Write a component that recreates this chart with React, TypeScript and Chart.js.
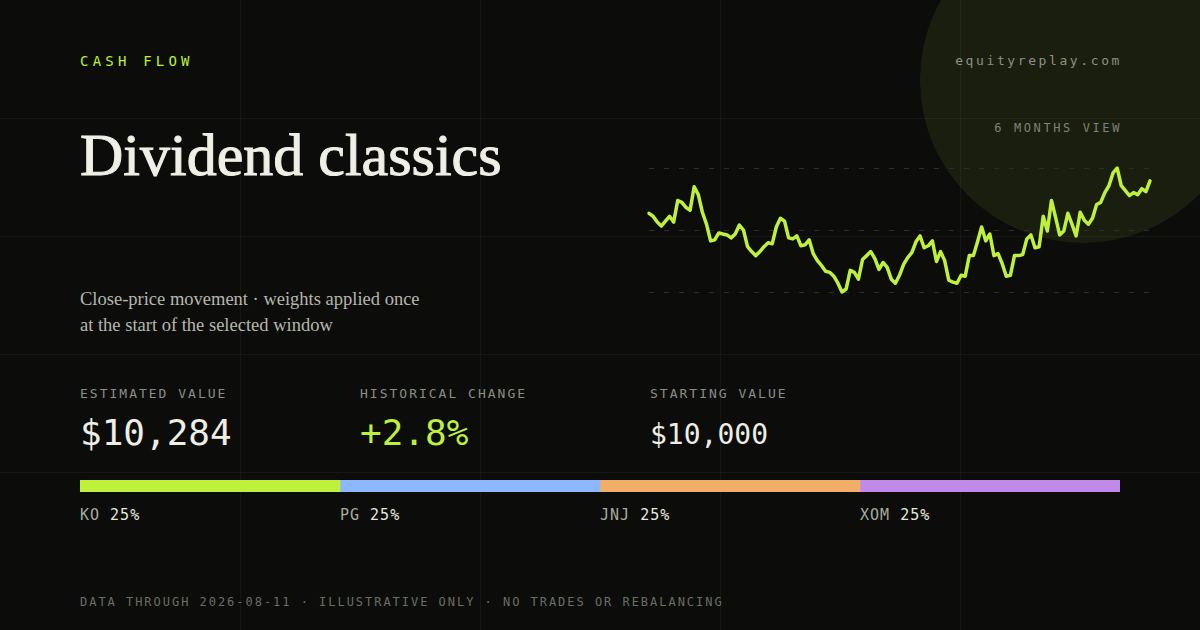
import { useEffect, useRef } from "react";
import { Chart, registerables } from "chart.js";

Chart.register(...registerables);

// Valor da carteira (USD), 6 meses de fechamentos
const portfolioValues = [
  10000, 9974, 9923, 9888, 9931, 9974, 9923, 10112, 10095, 10052,
  10026, 10232, 10163, 10009, 9905, 9759, 9768, 9828, 9819, 9811,
  9785, 9819, 9897, 9854, 9708, 9665, 9630, 9665, 9708, 9742,
  9733, 9880, 9957, 9931, 9785, 9776, 9802, 9716, 9725, 9768,
  9647, 9587, 9544, 9493, 9484, 9450, 9389, 9312, 9338, 9501,
  9484, 9424, 9596, 9630, 9665, 9604, 9510, 9570, 9527, 9424,
  9389, 9458, 9553, 9613, 9656, 9751, 9802, 9699, 9716, 9759,
  9579, 9665, 9587, 9415, 9398, 9389, 9458, 9450, 9630, 9630,
  9751, 9880, 9759, 9819, 9630, 9647, 9561, 9450, 9458, 9630,
  9630, 9639, 9776, 9811, 9699, 9708, 9974, 9845, 10112, 9966,
  9811, 9845, 10000, 9905, 9802, 10009, 9940, 9905, 9957, 10077,
  10095, 10181, 10241, 10353, 10396, 10241, 10198, 10155, 10181, 10163,
  10215, 10189, 10284,
];
const dayLabels = portfolioValues.map((_, i) => `D${i + 1}`);

const tickers = ["KO", "PG", "JNJ", "XOM"];
const weights = [25, 25, 25, 25];
const tickerColors = ["#bef03c", "#8db8ff", "#f2ae66", "#c18ae8"];

const stats = [
  { label: "ESTIMATED VALUE", value: "$10,284", x: 80, size: 36, color: "#eeeee6" },
  { label: "HISTORICAL CHANGE", value: "+2.8%", x: 360, size: 36, color: "#bef03c" },
  { label: "STARTING VALUE", value: "$10,000", x: 650, size: 28, color: "#eeeee6" },
];

const LIME = "#bef03c";
const MONO = '"DejaVu Sans Mono", "Liberation Mono", monospace';
const SERIF = '"Liberation Serif", "DejaVu Serif", serif';

function LineChart() {
  const chartRef = useRef<HTMLCanvasElement>(null);
  const chartInstance = useRef<Chart | null>(null);

  useEffect(() => {
    const canvas = chartRef.current;
    if (!canvas) return;
    const lo = Math.min(...portfolioValues);
    const hi = Math.max(...portfolioValues);

    chartInstance.current = new Chart(canvas, {
      type: "line",
      data: {
        labels: dayLabels,
        datasets: [
          {
            data: portfolioValues,
            borderColor: LIME,
            borderWidth: 3.5,
            borderJoinStyle: "round",
            borderCapStyle: "round",
            pointRadius: 0,
            tension: 0,
            fill: false,
            clip: false,
          },
        ],
      },
      options: {
        responsive: false,
        animation: false,
        layout: { padding: { left: 9, right: 10, top: 10, bottom: 10 } },
        plugins: { legend: { display: false }, tooltip: { enabled: false } },
        scales: {
          x: { display: false },
          y: {
            min: lo,
            max: hi,
            border: { display: false, dash: [5, 10] },
            ticks: { display: false },
            afterBuildTicks: (scale: any) => {
              scale.ticks = [{ value: lo }, { value: (lo + hi) / 2 }, { value: hi }];
            },
            grid: {
              color: "#2c2e28",
              lineWidth: 1,
              drawTicks: false,
            },
          },
        },
      },
    });

    return () => {
      chartInstance.current?.destroy();
      chartInstance.current = null;
    };
  }, []);

  return <canvas ref={chartRef} width={520} height={144} />;
}

function AllocationBar() {
  const chartRef = useRef<HTMLCanvasElement>(null);
  const chartInstance = useRef<Chart | null>(null);

  useEffect(() => {
    const canvas = chartRef.current;
    if (!canvas) return;

    chartInstance.current = new Chart(canvas, {
      type: "bar",
      data: {
        labels: ["weights"],
        datasets: tickers.map((t, i) => ({
          label: t,
          data: [weights[i]],
          backgroundColor: tickerColors[i],
          borderWidth: 0,
          barPercentage: 1,
          categoryPercentage: 1,
        })),
      },
      options: {
        indexAxis: "y",
        responsive: false,
        animation: false,
        layout: { padding: 0 },
        plugins: { legend: { display: false }, tooltip: { enabled: false } },
        scales: {
          x: { display: false, stacked: true, min: 0, max: 100 },
          y: { display: false, stacked: true },
        },
      },
    });

    return () => {
      chartInstance.current?.destroy();
      chartInstance.current = null;
    };
  }, []);

  return <canvas ref={chartRef} width={1040} height={12} />;
}

export default function App() {
  const abs = (s: any) => ({ position: "absolute" as const, ...s });

  return (
    <div
      style={abs({
        left: 0,
        top: 0,
        width: 1200,
        height: 630,
        overflow: "hidden",
        background: "#0c0d0a",
      })}
    >
      <div
        style={abs({
          left: 1083 - 163,
          top: 80 - 163,
          width: 326,
          height: 326,
          borderRadius: "50%",
          background: "rgba(190,240,60,0.08)",
        })}
      />
      {[240, 480, 720, 960].map((x) => (
        <div key={"v" + x} style={abs({ left: x, top: 0, width: 1, height: 630, background: "rgba(255,255,255,0.045)" })} />
      ))}
      {[118, 236, 354, 472].map((y) => (
        <div key={"h" + y} style={abs({ left: 0, top: y, width: 1200, height: 1, background: "rgba(255,255,255,0.045)" })} />
      ))}

      <div style={abs({ left: 80, top: 54, font: `14px/1 ${MONO}`, letterSpacing: 4.2, color: LIME })}>CASH FLOW</div>
      <div style={abs({ right: 78, top: 54, font: `13px/1 ${MONO}`, letterSpacing: 2.6, color: "#8d9083" })}>
        equityreplay.com
      </div>
      <div style={abs({ right: 78, top: 122, font: `12px/1 ${MONO}`, letterSpacing: 2.6, color: "#7e8176" })}>
        6 MONTHS VIEW
      </div>

      <div
        style={abs({
          left: 80,
          top: 125,
          font: `60px/1 ${SERIF}`,
          color: "#f0efe6",
          whiteSpace: "nowrap",
          WebkitTextStroke: "1px #f0efe6",
        })}
      >
        Dividend classics
      </div>
      <div style={abs({ left: 80, top: 286, font: `18.5px/26px ${SERIF}`, color: "#b5b7ad", width: 440 })}>
        Close-price movement · weights applied once
        <br />
        at the start of the selected window
      </div>

      <div style={abs({ left: 640, top: 158, width: 520, height: 144 })}>
        <LineChart />
      </div>

      {stats.map((s) => (
        <div key={s.label}>
          <div style={abs({ left: s.x, top: 387, font: `13px/1 ${MONO}`, letterSpacing: 2, color: "#8a8d83" })}>
            {s.label}
          </div>
          <div
            style={abs({
              left: s.x,
              top: s.size === 36 ? 415 : 421,
              font: `${s.size}px/1 ${MONO}`,
              color: s.color,
            })}
          >
            {s.value}
          </div>
        </div>
      ))}

      <div style={abs({ left: 80, top: 480, width: 1040, height: 12 })}>
        <AllocationBar />
      </div>
      {tickers.map((t, i) => (
        <div
          key={t}
          style={abs({ left: 80 + i * 260, top: 508, font: `15px/1 ${MONO}`, letterSpacing: 1, color: "#a6a99f" })}
        >
          {t} <span style={{ color: "#e6e6de" }}>{weights[i]}%</span>
        </div>
      ))}

      <div style={abs({ left: 80, top: 596, font: `12px/1 ${MONO}`, letterSpacing: 1.97, color: "#6b6e65" })}>
        DATA THROUGH 2026-08-11 · ILLUSTRATIVE ONLY · NO TRADES OR REBALANCING
      </div>
    </div>
  );
}
